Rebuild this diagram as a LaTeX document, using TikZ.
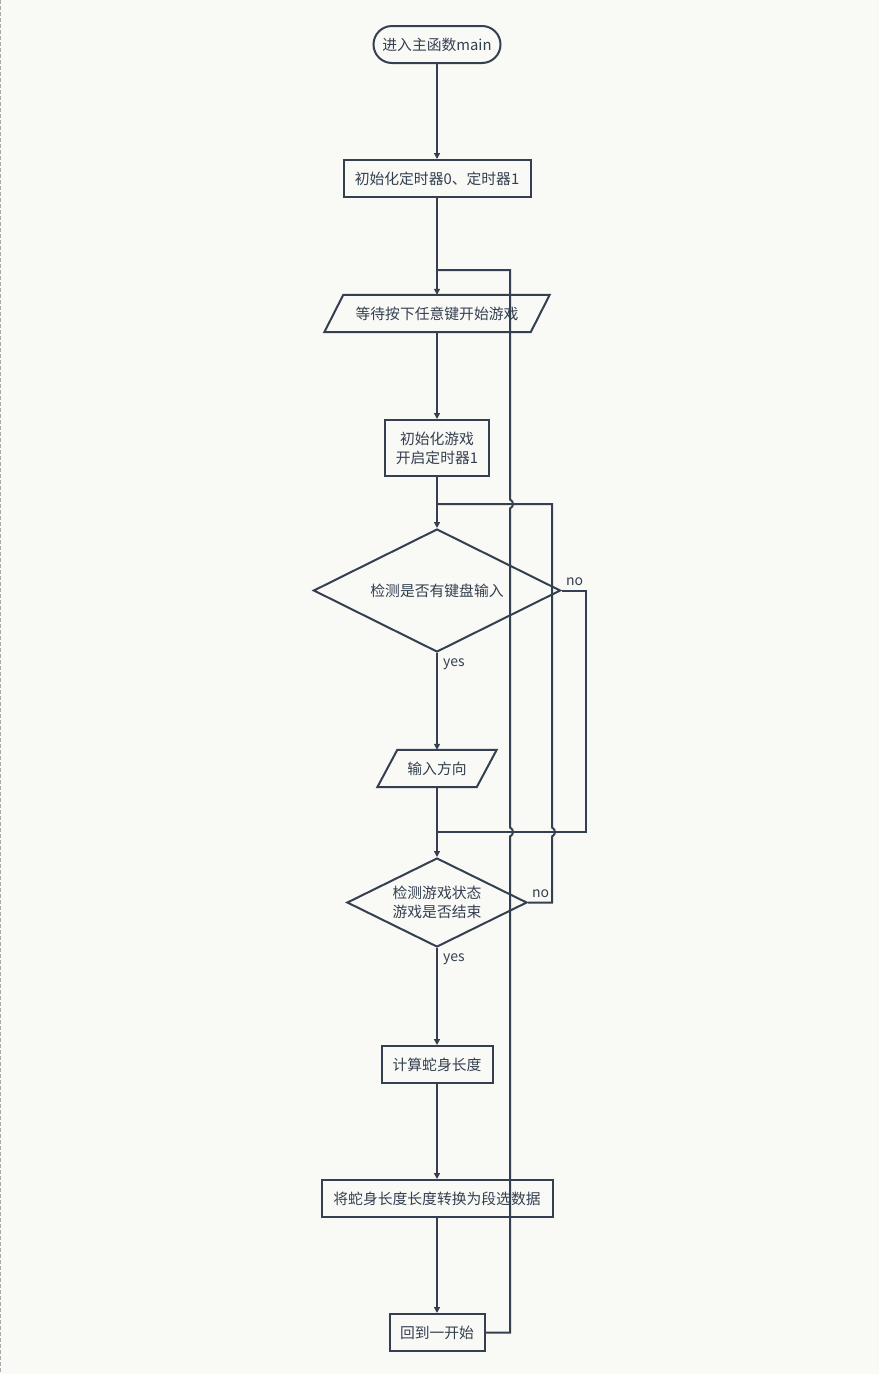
\documentclass[tikz,border=0pt]{standalone}
\usepackage{fontspec}
\setmainfont{Noto Sans CJK SC}
\usetikzlibrary{shapes.geometric,arrows.meta,calc}
\definecolor{ink}{RGB}{52,64,80}
\definecolor{bg}{RGB}{249,249,246}
\definecolor{edge}{RGB}{170,170,170}
\begin{document}
\begin{tikzpicture}[x=1pt,y=-1pt,
  every node/.style={text=ink,font=\fontsize{14.8}{19}\selectfont},
  boxnode/.style={draw=ink,line width=2pt,rectangle,minimum height=37pt,inner sep=0pt,align=center},
  termnode/.style={draw=ink,line width=2pt,rectangle,rounded corners=18.5pt,minimum width=127pt,minimum height=37pt,inner sep=0pt},
  paranode/.style={rectangle,minimum height=37pt,inner sep=0pt},
  decnode/.style={draw=ink,line width=2pt,diamond,aspect=2,inner sep=0pt,align=center},
  lbl/.style={font=\fontsize{14}{16}\selectfont,inner sep=0pt},
  conn/.style={draw=ink,line width=2pt},
  arr/.style={conn,-{Triangle[length=6pt,width=6pt]}}]
\useasboundingbox (0,0) rectangle (879,1374);
\fill[bg] (0,0) rectangle (879,1374);
\draw[edge,line width=1pt,dash pattern=on 4pt off 2pt] (0.5,0) -- (0.5,1374);

\node[termnode] (start) at (437,44.5) {进入主函数main};
\node[boxnode,minimum width=187pt] (init) at (437,178.5) {初始化定时器0、定时器1};
\node[paranode,minimum width=206pt] (wait) at (437,313.5) {等待按下任意键开始游戏};
\draw[ink,line width=2pt] ($(wait.south west)+(-9.5,0)$) -- ($(wait.south east)+(-9.5,0)$) -- ($(wait.north east)+(9.5,0)$) -- ($(wait.north west)+(9.5,0)$) -- cycle;
\node[boxnode,minimum width=104pt,minimum height=56pt] (game) at (437,448) {初始化游戏\\开启定时器1};
\node[decnode,minimum width=247pt,minimum height=123pt] (key) at (437,590.5) {检测是否有键盘输入};
\node[paranode,minimum width=99pt] (dir) at (437,768.5) {输入方向};
\draw[ink,line width=2pt] ($(dir.south west)+(-10,0)$) -- ($(dir.south east)+(-10,0)$) -- ($(dir.north east)+(10,0)$) -- ($(dir.north west)+(10,0)$) -- cycle;
\node[decnode,minimum width=180pt,minimum height=89pt] (over) at (437,902.5) {检测游戏状态\\游戏是否结束};
\node[boxnode,minimum width=111pt] (len) at (437,1064.5) {计算蛇身长度};
\node[boxnode,minimum width=231pt] (seg) at (437,1198.5) {将蛇身长度长度转换为段选数据};
\node[boxnode,minimum width=95pt] (back) at (437,1332.5) {回到一开始};

\node[lbl,anchor=west] (no1) at (566,582) {no};
\node[lbl,anchor=west] (yes1) at (443,664) {yes};
\node[lbl,anchor=west] (no2) at (532,894) {no};
\node[lbl,anchor=west] (yes2) at (443,959) {yes};

\coordinate (j1) at (437,270);
\coordinate (j2) at (437,504);
\coordinate (j3) at (437,832);

% main flow
\draw[arr] (start) -- (init);
\draw[arr] (init) -- (wait);
\draw[arr] (wait) -- (game);
\draw[arr] (game) -- (key);
\draw[arr] (key) -- (dir);
\draw[arr] (dir) -- (over);
\draw[arr] (over) -- (len);
\draw[arr] (len) -- (seg);
\draw[arr] (seg) -- (back);

% loops
\draw[conn] (key.east) -- (586,590.5) -- (586,832) -- (j3);
\draw[conn] (over.east) -- (552,902.5) -- (552,836.5)
  .. controls (556,834.5) and (556,829.5) .. (552,827.5) -- (552,504) -- (j2);
\draw[conn] (back.east) -- (510,1332.5) -- (510,836.5)
  .. controls (514,834.5) and (514,829.5) .. (510,827.5) -- (510,508.5)
  .. controls (514,506.5) and (514,501.5) .. (510,499.5) -- (510,270) -- (j1);
\end{tikzpicture}
\end{document}
